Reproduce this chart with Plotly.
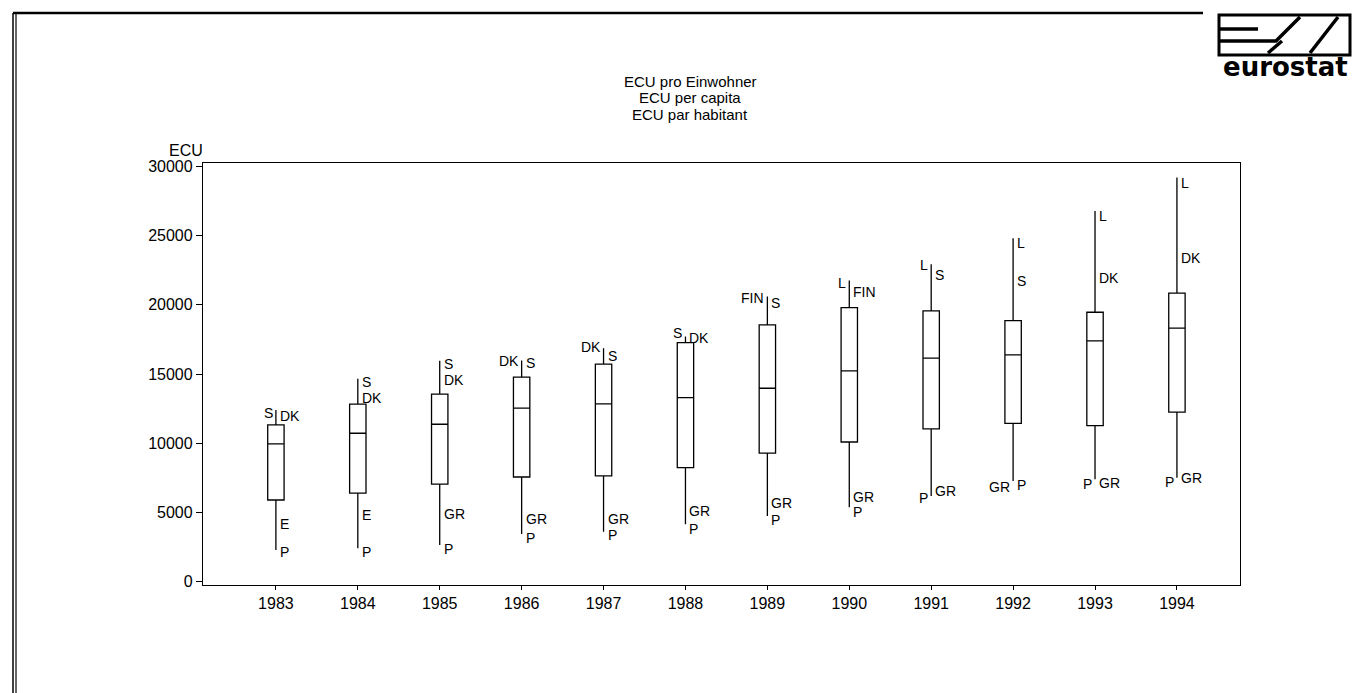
import plotly.graph_objects as go

# Jahre / years
years = [1983, 1984, 1985, 1986, 1987, 1988, 1989, 1990, 1991, 1992, 1993, 1994]

# box statistics, ECU per capita
q1 = [5900, 6390, 7040, 7560, 7640, 8240, 9280, 10090, 11030, 11440, 11270, 12240]
median = [9950, 10720, 11370, 12530, 12840, 13300, 13970, 15220, 16140, 16380, 17390, 18310]
q3 = [11320, 12820, 13540, 14770, 15710, 17270, 18550, 19800, 19560, 18860, 19460, 20840]
low = [2290, 2410, 2650, 3450, 3610, 4150, 4750, 5380, 6190, 7280, 7400, 7510]
high = [12400, 14650, 15950, 15970, 16860, 17700, 20600, 21750, 22930, 24810, 26780, 29190]

# country labels written left of the whisker
left_year = [1983, 1986, 1987, 1988, 1989, 1990, 1991, 1991, 1992, 1993, 1994]
left_code = ["S", "DK", "DK", "S", "FIN", "L", "L", "P", "GR", "P", "P"]
left_value = [12200, 15970, 16980, 17970, 20500, 21560, 22880, 6050, 6860, 7040, 7180]

# country labels written right of the whisker
right_year = [1983, 1983, 1983, 1984, 1984, 1984, 1984, 1985, 1985, 1985, 1985,
              1986, 1986, 1986, 1987, 1987, 1987, 1988, 1988, 1988, 1989, 1989, 1989,
              1990, 1990, 1990, 1991, 1991, 1992, 1992, 1992, 1993, 1993, 1993,
              1994, 1994, 1994]
right_code = ["DK", "E", "P", "S", "DK", "E", "P", "S", "DK", "GR", "P",
              "S", "GR", "P", "S", "GR", "P", "DK", "GR", "P", "S", "GR", "P",
              "FIN", "GR", "P", "S", "GR", "L", "S", "P", "L", "DK", "GR",
              "L", "DK", "GR"]
right_value = [12000, 4170, 2170, 14400, 13250, 4820, 2170, 15750, 14600, 4890, 2340,
               15800, 4500, 3140, 16300, 4500, 3370, 17600, 5110, 3790, 20100, 5710, 4460,
               20950, 6150, 5000, 22160, 6550, 24450, 21730, 6990, 26420, 21920, 7110,
               28830, 23370, 7470]

yticks = [0, 5000, 10000, 15000, 20000, 25000, 30000]
title_lines = ["ECU pro Einwohner", "ECU per capita", "ECU par habitant"]

FONT = "Liberation Sans, Arial, Helvetica, sans-serif"
W, H = 1362, 693
L, R, T, B = 203, 1240, 163, 585


def px(x):
    return (x - L) / (R - L)


def py(y):
    return (B - y) / (B - T)


fig = go.Figure()
fig.add_trace(go.Box(
    x=years, q1=q1, median=median, q3=q3,
    lowerfence=low, upperfence=high,
    width=0.2, whiskerwidth=0,
    fillcolor="white",
    line=dict(color="black", width=1.3),
    boxpoints=False, hoverinfo="skip",
))

ann = []
for x, t, v in zip(left_year, left_code, left_value):
    ann.append(dict(x=x, y=v, text=t, xanchor="right", yanchor="middle",
                    xshift=-1, showarrow=False, font=dict(size=14)))
for x, t, v in zip(right_year, right_code, right_value):
    ann.append(dict(x=x, y=v, text=t, xanchor="left", yanchor="middle",
                    xshift=2, showarrow=False, font=dict(size=14)))

# titles
for i, line in enumerate(title_lines):
    ann.append(dict(xref="paper", yref="paper", x=px(690), y=py(81 + i * 17),
                    text=line, showarrow=False, xanchor="center", yanchor="middle",
                    font=dict(size=15)))
ann.append(dict(xref="paper", yref="paper", x=px(186), y=py(150), text="ECU",
                showarrow=False, xanchor="center", yanchor="middle", font=dict(size=16)))
# logo text
ann.append(dict(xref="paper", yref="paper", x=px(1285), y=py(67), text="<b>eurostat</b>",
                showarrow=False, xanchor="center", yanchor="middle",
                font=dict(size=26, family="DejaVu Sans")))

shapes = [
    # page frame
    dict(type="line", xref="paper", yref="paper", x0=px(13), x1=px(1203), y0=py(13), y1=py(13),
         line=dict(color="black", width=2.5)),
    dict(type="line", xref="paper", yref="paper", x0=px(13), x1=px(13), y0=py(13), y1=py(693),
         line=dict(color="black", width=1.5)),
    dict(type="line", xref="paper", yref="paper", x0=px(16), x1=px(16), y0=py(13), y1=py(693),
         line=dict(color="black", width=1.2)),
    # logo
    dict(type="rect", xref="paper", yref="paper", x0=px(1219), x1=px(1350), y0=py(15), y1=py(55),
         line=dict(color="black", width=3)),
    dict(type="path", xref="paper", yref="paper",
         path=f"M {px(1219)},{py(29)} L {px(1258)},{py(29)}",
         line=dict(color="black", width=3.5)),
    dict(type="path", xref="paper", yref="paper",
         path=f"M {px(1219)},{py(41)} L {px(1276)},{py(41)} L {px(1300)},{py(17)}",
         line=dict(color="black", width=3.5)),
    dict(type="path", xref="paper", yref="paper",
         path=f"M {px(1268)},{py(53)} L {px(1282)},{py(41)}",
         line=dict(color="black", width=3.5)),
    dict(type="path", xref="paper", yref="paper",
         path=f"M {px(1310)},{py(53)} L {px(1338)},{py(17)}",
         line=dict(color="black", width=3.5)),
]

fig.update_layout(
    width=W, height=H,
    margin=dict(l=L, r=W - R, t=T, b=H - B, autoexpand=False),
    plot_bgcolor="white", paper_bgcolor="white",
    font=dict(family=FONT, color="black", size=16),
    showlegend=False,
    annotations=ann,
    shapes=shapes,
    xaxis=dict(range=[1982.11, 1994.77], tickvals=years, ticktext=[str(y) for y in years],
               showline=True, mirror=True, linecolor="black", linewidth=1.3,
               ticks="outside", ticklen=4, tickcolor="black", showgrid=False, zeroline=False,
               tickfont=dict(size=16)),
    yaxis=dict(range=[-240, 30240], tickvals=yticks, ticktext=[str(v) for v in yticks],
               showline=True, mirror=True, linecolor="black", linewidth=1.3,
               ticks="outside", ticklen=6, tickcolor="black", showgrid=False, zeroline=False,
               tickfont=dict(size=16)),
)

fig.write_html("out.html", config={"displayModeBar": False},
               post_script="document.body.style.margin='0px';"
                           "document.body.style.overflow='hidden';")
